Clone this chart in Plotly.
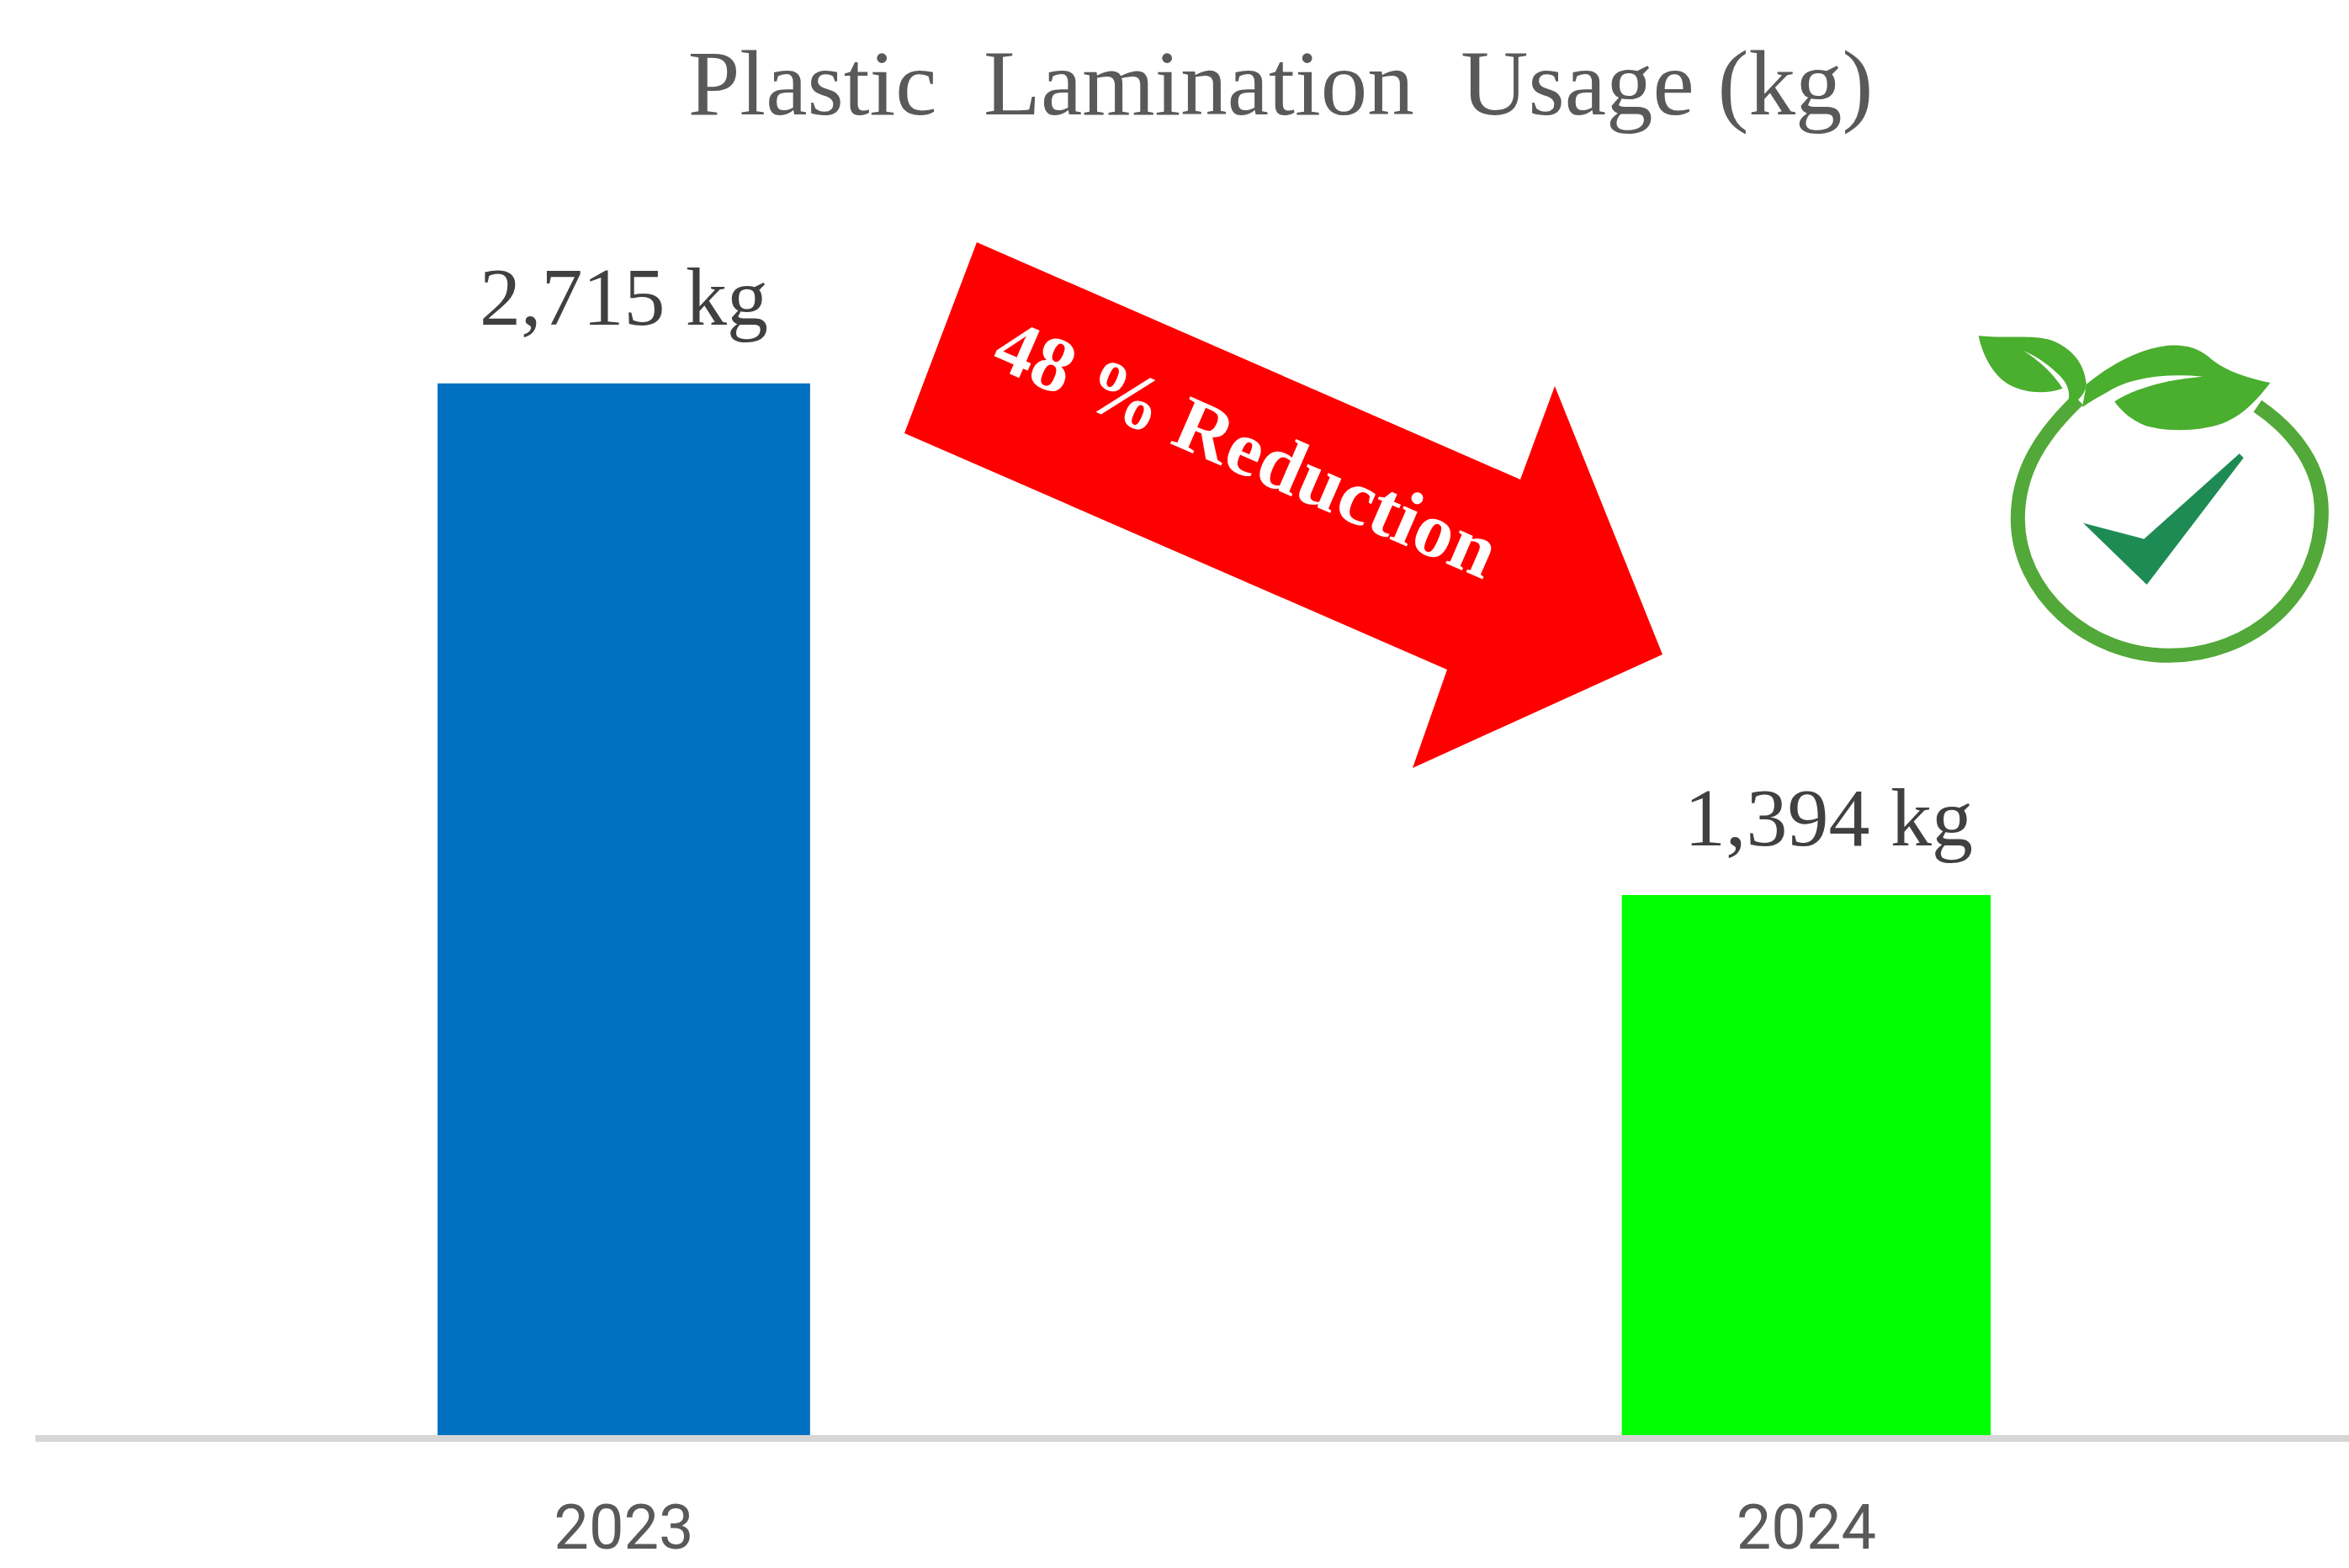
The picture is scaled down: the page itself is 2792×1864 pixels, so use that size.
import re
import plotly.graph_objects as go

# Data
years = [2023, 2024]
usage_kg = [2715, 1394]
value_labels = ["2,715 kg", "1,394 kg"]
tick_labels = ["2023", "2024"]
bar_colors = ["#0070C0", "#00FF00"]
bar_widths = [0.315, 0.312]
title_text = "Plastic\u00a0\u00a0Lamination\u00a0\u00a0Usage (kg)"
arrow_text = "48 % Reduction"

W, H = 2792, 1864


def px(x, y):
    return f"{x / W:.5f},{1 - y / H:.5f}"


def page_path(points):
    return "M" + " L".join(px(*p) for p in points) + " Z"


def logo_path(d):
    """Logo outline given in units of a 3x crop placed at (2300, 360)."""
    def repl(m):
        return px(2300 + float(m.group(1)) / 3, 360 + float(m.group(2)) / 3)
    return re.sub(r"(\d+(?:\.\d+)?),(\d+(?:\.\d+)?)", repl, d)


arrow_outline = [(1161, 288), (1807, 570), (1848, 459), (1976, 778),
                 (1679, 913), (1720, 796), (1075, 515)]

LOGO_GREEN = "#4AAE2E"
RING_GREEN = "#52A838"
CHECK_GREEN = "#1F8B54"

left_leaf = ("M155,118 C260,128 340,112 410,132 C490,160 535,220 540,295 "
             "C530,335 505,355 465,375 C490,330 475,290 445,260 "
             "C410,225 370,195 315,170 C370,205 420,250 455,305 "
             "C400,325 330,325 270,295 C210,265 170,190 155,118 Z")
right_leaf = ("M540,290 C620,225 720,165 830,152 C910,148 950,168 990,205 "
              "C1040,245 1120,270 1195,285 C1160,330 1110,395 1030,428 "
              "C950,458 830,462 750,438 C700,418 665,388 640,352 "
              "C720,300 840,272 955,263 C830,250 700,265 620,315 "
              "C585,335 555,350 525,372 Z")
ring = ("M1150,368 C1285,460 1378,590 1378,745 C1378,1040 1130,1258 835,1258 "
        "C540,1258 295,1030 295,770 C295,600 380,470 510,345")
check = "M528,785 L745,842 L1085,538 L1100,553 L755,1005 Z"

fig = go.Figure(
    go.Bar(x=years, y=usage_kg, width=bar_widths,
           marker=dict(color=bar_colors, line_width=0), hoverinfo="skip")
)

shape_common = dict(type="path", xref="paper", yref="paper", layer="above")
shapes = [
    dict(path=page_path(arrow_outline), fillcolor="#FF0000", line_width=0, **shape_common),
    dict(path=logo_path(ring), line=dict(color=RING_GREEN, width=17), **shape_common),
    dict(path=logo_path(left_leaf), fillcolor=LOGO_GREEN, line_width=0, **shape_common),
    dict(path=logo_path(right_leaf), fillcolor=LOGO_GREEN, line_width=0, **shape_common),
    dict(path=logo_path(check), fillcolor=CHECK_GREEN, line_width=0, **shape_common),
]

annotations = [
    dict(x=years[0], y=usage_kg[0], xref="x", yref="y", text=value_labels[0],
         showarrow=False, xanchor="center", yanchor="bottom", yshift=47,
         font=dict(family="Liberation Serif", size=98, color="#404040")),
    dict(x=years[1], y=usage_kg[1], xref="x", yref="y", text=value_labels[1],
         showarrow=False, xanchor="center", yanchor="bottom", yshift=36, xshift=27,
         font=dict(family="Liberation Serif", size=98, color="#404040")),
    dict(x=1482 / W, y=1 - 532 / H, xref="paper", yref="paper", text=f"<b>{arrow_text}</b>",
         showarrow=False, textangle=23.5, xanchor="center", yanchor="middle",
         font=dict(family="Liberation Serif", size=93, color="#FFFFFF")),
]

fig.update_layout(
    width=W, height=H, autosize=False,
    margin=dict(l=0, r=0, t=0, b=0),
    paper_bgcolor="#FFFFFF", plot_bgcolor="#FFFFFF",
    showlegend=False,
    title=dict(text=title_text, xref="paper", yref="paper", x=1522 / W, y=1 - 97 / H,
               xanchor="center", yanchor="middle",
               font=dict(family="Liberation Serif", size=111, color="#595959")),
    xaxis=dict(domain=[42 / W, 1], range=[2022.5023, 2024.459], automargin=False,
               tickmode="array", tickvals=years, ticktext=tick_labels,
               ticks="", showgrid=False, zeroline=False,
               showline=True, linecolor="#D6D6D6", linewidth=8,
               ticklabelstandoff=38,
               tickfont=dict(family="Roboto", size=74, color="#595959")),
    yaxis=dict(domain=[158 / H, 1], range=[0, 3705], visible=False, automargin=False),
    shapes=shapes,
    annotations=annotations,
)

fig.write_html("out.html", post_script="document.body.style.margin='0';document.body.style.overflow='hidden';",
               config={"displayModeBar": False})
